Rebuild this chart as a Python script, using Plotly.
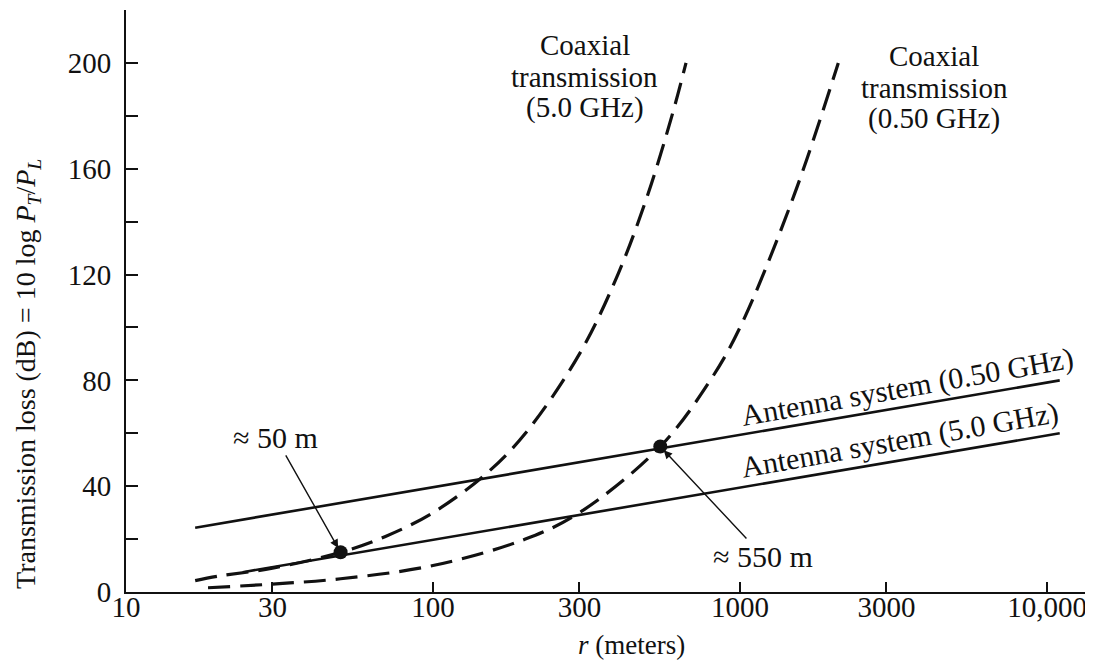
import plotly.graph_objects as go

# Data
r_ant_050 = [16.8, 11000]
loss_ant_050 = [24.3, 80]

r_ant_50 = [24, 11000]
loss_ant_50 = [7.5, 60]

r_coax_50 = [16.8, 20, 30, 50, 70, 100, 150, 200, 300, 400, 500, 600, 667]
loss_coax_50 = [4.3, 6, 9, 15, 21, 30, 45, 60, 90, 120, 150, 180, 200]

r_coax_050 = [18.5, 30, 50, 100, 200, 300, 550, 800, 1000, 1500, 2090]
loss_coax_050 = [1.6, 3, 5, 10, 20, 30, 55, 80, 100, 150, 200]

r_points = [50, 550]
loss_points = [15, 55]

x_tickvals = [10, 30, 100, 300, 1000, 3000, 10000]
x_ticktext = ["10", "30", "100", "300", "1000", "3000", "10,000"]
y_tickvals = [0, 40, 80, 120, 160, 200]

FONT = "Liberation Serif"
BLACK = "#111111"

fig = go.Figure()
fig.add_trace(go.Scatter(x=r_ant_050, y=loss_ant_050, mode="lines",
                         line=dict(color=BLACK, width=2.6), showlegend=False))
fig.add_trace(go.Scatter(x=r_ant_50, y=loss_ant_50, mode="lines",
                         line=dict(color=BLACK, width=2.6), showlegend=False))
fig.add_trace(go.Scatter(x=r_coax_50, y=loss_coax_50, mode="lines", line_shape="spline",
                         line=dict(color=BLACK, width=3.2, dash="22px,10px"), showlegend=False))
fig.add_trace(go.Scatter(x=r_coax_050, y=loss_coax_050, mode="lines", line_shape="spline",
                         line=dict(color=BLACK, width=3.2, dash="22px,10px"), showlegend=False))
fig.add_trace(go.Scatter(x=r_points, y=loss_points, mode="markers",
                         marker=dict(color=BLACK, size=14), showlegend=False))

ann_font = dict(family=FONT, size=30, color=BLACK)
coax_font = dict(family=FONT, size=29, color=BLACK)
annotations = []

# Coaxial labels, one annotation per line for tight line spacing (centres in data coords)
for txt, yv in [("Coaxial", 206.8), ("transmission", 194.7), ("(5.0 GHz)", 183.2)]:
    annotations.append(dict(x=2.495, y=yv, xref="x", yref="y", text=txt,
                            showarrow=False, font=coax_font))
for txt, yv in [("Coaxial", 202.8), ("transmission", 190.7), ("(0.50 GHz)", 178.8)]:
    annotations.append(dict(x=3.632, y=yv, xref="x", yref="y", text=txt,
                            showarrow=False, font=coax_font))

annotations += [
    dict(x=3.544, y=77.5, xref="x", yref="y", text="Antenna system (0.50 GHz)",
         showarrow=False, font=ann_font, textangle=-10),
    dict(x=3.521, y=57.5, xref="x", yref="y", text="Antenna system (5.0 GHz)",
         showarrow=False, font=ann_font, textangle=-10),
    dict(x=1.699, y=15, xref="x", yref="y", text="≈ 50 m", showarrow=True,
         ax=-65, ay=-115, arrowhead=2, arrowsize=1.2, arrowwidth=1.4,
         arrowcolor=BLACK, font=ann_font, standoff=5),
    dict(x=2.7404, y=55, xref="x", yref="y", text="≈ 550 m", showarrow=True,
         ax=103, ay=110, arrowhead=2, arrowsize=1.2, arrowwidth=1.4,
         arrowcolor=BLACK, font=ann_font, standoff=5),
    # axis titles
    dict(x=-0.1017, y=0.3746, xref="paper", yref="paper", textangle=-90,
         text="Transmission loss (dB) = 10 log <i>P</i><sub><i>T</i></sub>/<i>P</i><sub><i>L</i></sub>",
         showarrow=False, font=dict(family=FONT, size=28, color=BLACK),
         xanchor="center", yanchor="middle"),
    dict(x=0.524, y=-0.0911, xref="paper", yref="paper",
         text="<i>r</i> (meters)", showarrow=False,
         font=dict(family=FONT, size=27, color=BLACK),
         xanchor="center", yanchor="middle"),
]

# The page body adds an 8px offset, so the figure is sized to fit the window after it
fig.update_layout(
    width=1085, height=654,
    margin=dict(l=118, r=3, t=2, b=70),
    paper_bgcolor="white", plot_bgcolor="white",
    font=dict(family=FONT, size=29, color=BLACK),
    annotations=annotations,
    xaxis=dict(type="log", range=[1, 4.14], tickvals=x_tickvals, ticktext=x_ticktext,
               ticks="inside", ticklen=10, tickwidth=1.5, tickcolor=BLACK,
               tickfont=dict(family=FONT, size=29, color=BLACK), ticklabelstandoff=-12,
               showline=True, linecolor=BLACK, linewidth=2, showgrid=False, zeroline=False,
               automargin=False),
    yaxis=dict(range=[0, 220], tickvals=y_tickvals,
               ticks="inside", ticklen=12, tickwidth=1.5, tickcolor=BLACK,
               tickfont=dict(family=FONT, size=29, color=BLACK), ticklabelstandoff=7,
               minor=dict(dtick=20, ticks="inside", ticklen=12, tickwidth=1.5, tickcolor=BLACK),
               showline=True, linecolor=BLACK, linewidth=2, showgrid=False, zeroline=False,
               automargin=False),
)

fig.write_html("out.html")
